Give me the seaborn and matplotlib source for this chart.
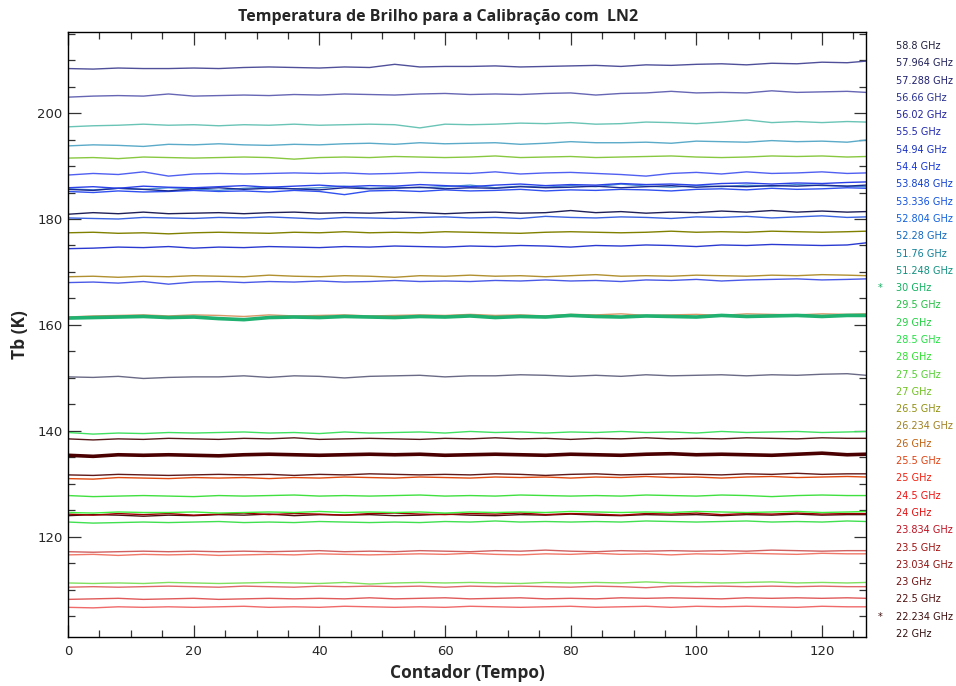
import numpy as np
import pandas as pd
import seaborn as sns
import matplotlib
matplotlib.use("Agg")
import matplotlib.pyplot as plt
from matplotlib.ticker import MultipleLocator

# ---------------- data ----------------
counter = [0, 4, 8, 12, 16, 20, 24, 28, 32, 36, 40, 44, 48, 52, 56, 60, 64, 68,
           72, 76, 80, 84, 88, 92, 96, 100, 104, 108, 112, 116, 120, 124, 127]

freq_labels = ["58.8 GHz", "57.964 GHz", "57.288 GHz", "56.66 GHz", "56.02 GHz",
               "55.5 GHz", "54.94 GHz", "54.4 GHz", "53.848 GHz", "53.336 GHz",
               "52.804 GHz", "52.28 GHz", "51.76 GHz", "51.248 GHz", "30 GHz",
               "29.5 GHz", "29 GHz", "28.5 GHz", "28 GHz", "27.5 GHz", "27 GHz",
               "26.5 GHz", "26.234 GHz", "26 GHz", "25.5 GHz", "25 GHz", "24.5 GHz",
               "24 GHz", "23.834 GHz", "23.5 GHz", "23.034 GHz", "23 GHz", "22.5 GHz",
               "22.234 GHz", "22 GHz"]

label_colors = ["#202040", "#202058", "#202070", "#283090", "#2020a0", "#2028b0",
                "#1830c0", "#1838d8", "#1040d0", "#1050e0", "#1060e0", "#1068c0",
                "#108098", "#109080", "#10b060", "#20c040", "#20d040", "#20e040",
                "#30e030", "#50d030", "#70c020", "#909010", "#a08020", "#c06010",
                "#e04010", "#f02010", "#f01010", "#e01010", "#c01020", "#a01010",
                "#901010", "#701010", "#501010", "#401010", "#301010"]

line_colors = ["#6a6a86", "#202058", "#50509a", "#6666b4", "#3a62e0", "#2a3ad0",
               "#4a5ae6", "#5060f0", "#2a40e8", "#1a2a90", "#3050f0", "#4a90d0",
               "#5aaac8", "#6ac4b6", "#20b070", "#40e050", "#40f040", "#40e060",
               "#40e040", "#80e060", "#88c840", "#808000", "#b09030", "#d89868",
               "#e04a10", "#f06a6a", "#e05a5a", "#f07868", "#a00000", "#d06060",
               "#e06868", "#601818", "#581818", "#4a0000", "#4a1010"]

marked = ["30 GHz", "22.234 GHz"]   # thick lines, marked with * in the legend

tb_58_8 = [150.2, 150.1, 150.3, 149.9, 150.1, 150.2, 150.2, 150.4, 150.1, 150.4, 150.3, 150.0, 150.3, 150.4, 150.5, 150.2, 150.4, 150.4, 150.6, 150.5, 150.3, 150.5, 150.3, 150.6, 150.4, 150.5, 150.6, 150.4, 150.6, 150.5, 150.7, 150.8, 150.5]
tb_57_964 = [180.9, 181.2, 181.0, 181.3, 181.0, 181.1, 181.2, 181.0, 181.2, 181.3, 181.1, 181.2, 181.1, 181.3, 181.2, 181.0, 181.2, 181.3, 181.1, 181.2, 181.6, 181.2, 181.4, 181.1, 181.3, 181.2, 181.5, 181.3, 181.6, 181.3, 181.5, 181.3, 181.4]
tb_57_288 = [208.4, 208.3, 208.5, 208.4, 208.4, 208.5, 208.4, 208.6, 208.7, 208.6, 208.5, 208.7, 208.6, 209.2, 208.7, 208.8, 208.8, 208.9, 208.7, 208.8, 208.9, 209.0, 208.8, 209.1, 209.0, 209.2, 209.3, 209.1, 209.4, 209.3, 209.6, 209.5, 209.8]
tb_56_66 = [203.0, 203.2, 203.3, 203.2, 203.6, 203.2, 203.3, 203.4, 203.3, 203.5, 203.4, 203.6, 203.5, 203.4, 203.6, 203.7, 203.5, 203.6, 203.5, 203.7, 203.8, 203.4, 203.7, 203.8, 204.1, 203.8, 203.9, 203.8, 204.2, 203.9, 204.0, 204.1, 203.9]
tb_56_02 = [180.2, 180.1, 180.0, 180.3, 180.2, 180.1, 180.3, 180.2, 180.4, 180.2, 180.0, 180.3, 180.2, 180.1, 180.3, 180.4, 180.2, 180.3, 180.1, 180.5, 180.3, 180.2, 180.4, 180.3, 180.1, 180.4, 180.3, 180.5, 180.2, 180.4, 180.6, 180.3, 180.4]
tb_55_5 = [174.4, 174.5, 174.7, 174.6, 174.8, 174.5, 174.7, 174.6, 174.8, 174.7, 174.6, 174.8, 174.7, 174.9, 174.8, 174.7, 174.9, 174.8, 175.0, 174.9, 174.7, 175.0, 174.9, 175.1, 175.0, 174.8, 175.1, 175.0, 175.2, 175.1, 175.0, 175.1, 175.5]
tb_54_94 = [168.0, 168.1, 167.9, 168.2, 167.7, 168.1, 168.2, 168.0, 168.2, 168.1, 168.3, 168.1, 168.2, 168.4, 168.2, 168.3, 168.2, 168.4, 168.3, 168.5, 168.3, 168.4, 168.2, 168.5, 168.4, 168.6, 168.3, 168.5, 168.6, 168.7, 168.5, 168.6, 168.7]
tb_54_4 = [188.3, 188.6, 188.4, 188.9, 188.1, 188.5, 188.6, 188.5, 188.6, 188.7, 188.6, 188.7, 188.5, 188.6, 188.8, 188.7, 188.6, 188.9, 188.5, 188.7, 188.8, 188.6, 188.4, 188.1, 188.6, 188.8, 188.5, 188.9, 188.6, 188.7, 188.9, 188.6, 188.7]
tb_53_848 = [185.9, 186.1, 185.8, 186.2, 186.0, 185.9, 186.1, 186.3, 186.0, 186.2, 186.4, 186.1, 186.3, 186.2, 186.5, 186.3, 186.1, 186.4, 186.6, 186.3, 186.5, 186.4, 186.7, 186.5, 186.6, 186.4, 186.7, 186.8, 186.6, 186.8, 186.7, 186.9, 187.0]
tb_53_336 = [185.6, 185.4, 185.8, 185.6, 185.3, 185.7, 185.9, 185.6, 185.8, 185.7, 185.5, 185.9, 185.7, 185.8, 186.0, 185.7, 185.9, 185.8, 186.1, 185.9, 186.0, 186.2, 185.9, 186.1, 186.3, 186.0, 186.2, 186.1, 186.3, 186.2, 186.4, 186.2, 186.4]
tb_52_804 = [185.2, 185.0, 185.3, 185.1, 185.2, 185.4, 185.2, 185.3, 185.1, 185.4, 185.2, 184.6, 185.3, 185.4, 185.2, 185.5, 185.3, 185.4, 185.6, 185.3, 185.5, 185.4, 185.6, 185.5, 185.3, 185.6, 185.7, 185.5, 185.8, 185.6, 185.7, 185.9, 185.8]
tb_52_28 = [185.7, 185.5, 185.8, 185.6, 185.9, 185.7, 185.4, 185.8, 186.0, 185.7, 185.9, 186.2, 185.8, 186.0, 185.9, 186.1, 186.4, 185.9, 186.2, 186.0, 186.3, 186.1, 186.6, 186.2, 186.0, 186.3, 186.1, 186.4, 186.2, 186.5, 186.3, 186.2, 186.1]
tb_51_76 = [193.8, 194.0, 193.9, 193.7, 194.1, 194.0, 194.2, 194.0, 193.9, 194.1, 194.0, 194.2, 194.3, 194.1, 194.4, 194.2, 194.3, 194.4, 194.1, 194.3, 194.6, 194.4, 194.4, 194.5, 194.3, 194.7, 194.6, 194.5, 194.8, 194.6, 194.7, 194.5, 194.9]
tb_51_248 = [197.4, 197.6, 197.7, 197.9, 197.7, 197.8, 197.6, 197.8, 197.7, 197.9, 197.7, 197.8, 197.9, 197.8, 197.2, 197.9, 197.8, 197.9, 198.1, 198.0, 198.2, 197.9, 198.0, 198.3, 198.2, 198.0, 198.3, 198.7, 198.2, 198.4, 198.2, 198.4, 198.3]
tb_30 = [161.3, 161.4, 161.5, 161.6, 161.4, 161.5, 161.2, 161.0, 161.4, 161.5, 161.4, 161.6, 161.5, 161.4, 161.6, 161.5, 161.7, 161.4, 161.6, 161.5, 161.8, 161.6, 161.5, 161.7, 161.6, 161.5, 161.8, 161.6, 161.7, 161.8, 161.6, 161.8, 161.8]
tb_29_5 = [122.8, 122.6, 122.7, 122.8, 122.7, 122.8, 122.9, 122.7, 122.8, 122.7, 122.9, 122.8, 122.7, 122.8, 122.7, 122.9, 122.8, 123.0, 122.8, 122.9, 122.8, 122.9, 122.8, 123.0, 122.9, 122.8, 122.9, 123.0, 122.8, 122.9, 122.8, 123.0, 122.9]
tb_29 = [124.6, 124.5, 124.7, 124.6, 124.6, 124.7, 124.5, 124.6, 124.7, 124.6, 124.8, 124.6, 124.7, 124.6, 124.7, 124.5, 124.7, 124.6, 124.7, 124.6, 124.8, 124.7, 124.6, 124.7, 124.6, 124.8, 124.7, 124.6, 124.7, 124.8, 124.6, 124.7, 124.8]
tb_28_5 = [139.7, 139.4, 139.6, 139.5, 139.7, 139.6, 139.7, 139.8, 139.6, 139.7, 139.5, 139.8, 139.6, 139.7, 139.8, 139.6, 139.9, 139.7, 139.8, 139.6, 139.8, 139.7, 139.9, 139.7, 139.8, 139.6, 139.9, 139.7, 139.8, 139.9, 139.7, 139.8, 139.9]
tb_28 = [127.8, 127.6, 127.7, 127.8, 127.7, 127.6, 127.8, 127.7, 127.8, 127.9, 127.7, 127.8, 127.7, 127.8, 127.9, 127.7, 127.8, 127.7, 127.9, 127.8, 127.7, 127.8, 127.7, 127.9, 127.8, 127.7, 127.9, 127.8, 127.6, 127.8, 127.9, 127.8, 127.8]
tb_27_5 = [111.3, 111.2, 111.3, 111.2, 111.4, 111.3, 111.2, 111.3, 111.4, 111.3, 111.2, 111.4, 111.1, 111.3, 111.4, 111.3, 111.4, 111.3, 111.2, 111.4, 111.3, 111.4, 111.3, 111.5, 111.3, 111.4, 111.3, 111.4, 111.5, 111.3, 111.4, 111.3, 111.4]
tb_27 = [191.5, 191.6, 191.4, 191.7, 191.6, 191.5, 191.6, 191.7, 191.6, 191.3, 191.6, 191.7, 191.6, 191.8, 191.7, 191.6, 191.7, 191.9, 191.6, 191.7, 191.8, 191.6, 191.7, 191.8, 191.9, 191.7, 191.6, 191.7, 191.9, 191.8, 191.9, 191.7, 191.8]
tb_26_5 = [177.4, 177.5, 177.3, 177.4, 177.2, 177.4, 177.5, 177.4, 177.3, 177.5, 177.4, 177.6, 177.4, 177.5, 177.4, 177.6, 177.5, 177.4, 177.3, 177.5, 177.6, 177.5, 177.4, 177.5, 177.7, 177.5, 177.6, 177.5, 177.7, 177.6, 177.5, 177.6, 177.7]
tb_26_234 = [169.1, 169.2, 169.0, 169.2, 169.1, 169.3, 169.2, 169.1, 169.4, 169.2, 169.1, 169.3, 169.2, 169.0, 169.3, 169.2, 169.4, 169.2, 169.3, 169.1, 169.3, 169.5, 169.2, 169.3, 169.2, 169.4, 169.3, 169.2, 169.4, 169.3, 169.5, 169.4, 169.3]
tb_26 = [161.5, 161.7, 161.8, 161.9, 161.7, 161.9, 161.8, 161.6, 161.9, 161.7, 161.8, 161.9, 161.7, 161.8, 161.9, 161.8, 162.0, 161.8, 161.9, 161.7, 162.0, 161.9, 162.1, 161.8, 161.9, 162.0, 161.8, 162.1, 162.0, 161.9, 162.1, 162.0, 162.1]
tb_25_5 = [131.0, 130.9, 131.2, 131.1, 131.0, 131.2, 131.1, 131.2, 131.0, 131.2, 131.1, 131.3, 131.2, 131.1, 131.3, 131.2, 131.1, 131.3, 131.2, 131.3, 131.1, 131.3, 131.2, 131.4, 131.2, 131.3, 131.1, 131.3, 131.4, 131.2, 131.3, 131.4, 131.3]
tb_25 = [106.7, 106.6, 106.8, 106.7, 106.8, 106.7, 106.8, 106.9, 106.7, 106.8, 106.7, 106.9, 106.8, 106.7, 106.8, 106.7, 106.9, 106.8, 106.7, 106.8, 106.9, 106.7, 106.8, 106.9, 106.7, 106.9, 106.8, 106.9, 106.8, 106.7, 106.9, 106.8, 106.8]
tb_24_5 = [108.2, 108.3, 108.4, 108.2, 108.3, 108.4, 108.2, 108.3, 108.4, 108.3, 108.4, 108.3, 108.5, 108.3, 108.4, 108.5, 108.3, 108.4, 108.5, 108.3, 108.4, 108.3, 108.5, 108.4, 108.5, 108.4, 108.3, 108.5, 108.4, 108.5, 108.4, 108.5, 108.4]
tb_24 = [116.6, 116.7, 116.5, 116.7, 116.6, 116.7, 116.5, 116.6, 116.7, 116.6, 116.8, 116.7, 116.6, 116.7, 116.8, 116.7, 116.9, 116.7, 116.6, 116.8, 116.7, 116.9, 116.7, 116.8, 116.6, 116.8, 116.7, 116.9, 116.8, 116.7, 116.9, 116.8, 116.8]
tb_23_834 = [124.3, 124.1, 124.4, 124.2, 124.4, 124.1, 124.3, 124.5, 124.2, 124.4, 124.3, 124.1, 124.4, 124.5, 124.3, 124.2, 124.4, 124.3, 124.5, 124.2, 124.4, 124.3, 124.1, 124.4, 124.3, 124.5, 124.2, 124.4, 124.3, 124.5, 124.3, 124.4, 124.4]
tb_23_5 = [117.2, 117.1, 117.2, 117.3, 117.2, 117.3, 117.2, 117.3, 117.2, 117.3, 117.4, 117.2, 117.3, 117.2, 117.4, 117.3, 117.2, 117.4, 117.3, 117.5, 117.3, 117.2, 117.4, 117.3, 117.4, 117.3, 117.4, 117.3, 117.5, 117.4, 117.3, 117.4, 117.4]
tb_23_034 = [110.5, 110.6, 110.5, 110.6, 110.7, 110.6, 110.5, 110.7, 110.6, 110.5, 110.7, 110.6, 110.7, 110.6, 110.7, 110.5, 110.7, 110.6, 110.7, 110.6, 110.5, 110.7, 110.6, 110.4, 110.7, 110.6, 110.7, 110.6, 110.7, 110.6, 110.7, 110.6, 110.6]
tb_23 = [131.7, 131.6, 131.8, 131.7, 131.6, 131.7, 131.8, 131.7, 131.8, 131.6, 131.8, 131.7, 131.9, 131.8, 131.7, 131.8, 131.7, 131.9, 131.8, 131.6, 131.8, 131.9, 131.7, 131.8, 131.9, 131.8, 131.7, 131.9, 131.8, 132.0, 131.8, 131.9, 131.9]
tb_22_5 = [138.5, 138.3, 138.5, 138.4, 138.6, 138.5, 138.4, 138.6, 138.5, 138.7, 138.4, 138.5, 138.6, 138.5, 138.4, 138.6, 138.5, 138.7, 138.5, 138.6, 138.4, 138.6, 138.5, 138.7, 138.5, 138.6, 138.5, 138.7, 138.6, 138.5, 138.7, 138.6, 138.6]
tb_22_234 = [135.4, 135.2, 135.5, 135.4, 135.5, 135.4, 135.3, 135.5, 135.6, 135.5, 135.4, 135.5, 135.6, 135.5, 135.6, 135.4, 135.5, 135.6, 135.5, 135.4, 135.6, 135.5, 135.4, 135.6, 135.7, 135.5, 135.6, 135.5, 135.4, 135.6, 135.8, 135.5, 135.6]
tb_22 = [124.0, 124.2, 124.1, 123.9, 124.1, 124.0, 124.2, 124.1, 124.3, 124.0, 124.2, 124.1, 124.2, 124.0, 124.1, 124.3, 124.1, 124.0, 124.2, 124.1, 124.3, 124.1, 124.0, 124.2, 124.1, 124.2, 124.0, 124.2, 124.1, 124.3, 124.1, 124.2, 124.2]

series = [tb_58_8, tb_57_964, tb_57_288, tb_56_66, tb_56_02, tb_55_5, tb_54_94,
          tb_54_4, tb_53_848, tb_53_336, tb_52_804, tb_52_28, tb_51_76, tb_51_248,
          tb_30, tb_29_5, tb_29, tb_28_5, tb_28, tb_27_5, tb_27, tb_26_5, tb_26_234,
          tb_26, tb_25_5, tb_25, tb_24_5, tb_24, tb_23_834, tb_23_5, tb_23_034,
          tb_23, tb_22_5, tb_22_234, tb_22]

# ---------------- plot ----------------
sns.set_style("ticks")
plt.rcParams["font.family"] = ["DejaVu Sans"]

W, H = 956, 686
fig = plt.figure(figsize=(W / 100, H / 100), dpi=100)
ax = fig.add_axes([68 / W, 1 - 637 / H, (866 - 68) / W, (637 - 32) / H])

rows = []
for lab, vals in zip(freq_labels, series):
    for c, v in zip(counter, vals):
        rows.append((lab, c, v))
df = pd.DataFrame(rows, columns=["canal", "contador", "tb"])

# draw thin lines first, thick (marked) lines on top
order = [l for l in freq_labels if l not in marked][::-1] + marked
for lab in order:
    i = freq_labels.index(lab)
    sub = df[df["canal"] == lab]
    lw = 2.6 if lab in marked else 1.0
    sns.lineplot(data=sub, x="contador", y="tb", color=line_colors[i], lw=lw,
                 ax=ax, legend=False, estimator=None, sort=False)

ax.set_xlim(0, 127)
ax.set_ylim(101.1, 215.3)
ax.xaxis.set_major_locator(MultipleLocator(20))
ax.xaxis.set_minor_locator(MultipleLocator(5))
ax.yaxis.set_major_locator(MultipleLocator(20))
ax.yaxis.set_minor_locator(MultipleLocator(5))
ax.tick_params(which="both", direction="in", top=True, right=True,
               color="#333333", width=0.9, labelsize=9.5)
ax.tick_params(axis="x", pad=6)
ax.tick_params(axis="y", pad=4)
ax.tick_params(which="major", length=9)
ax.tick_params(which="minor", length=5)
for s in ax.spines.values():
    s.set_linewidth(1.0)
    s.set_color("black")

ax.set_xlabel("Contador (Tempo)", fontsize=12.5, fontweight="bold",
              family=["Open Sans", "DejaVu Sans"], labelpad=4)
ax.set_ylabel("Tb (K)", fontsize=12.5, fontweight="bold",
              family=["Open Sans", "DejaVu Sans"], labelpad=6)

fig.text(438 / W, 1 - 17 / H, "Temperatura de Brilho para a Calibração com  LN2",
         ha="center", va="center", fontsize=11.5, fontweight="bold",
         family=["Open Sans", "DejaVu Sans"])

# channel labels at the right, IDL style
y0, y1 = 46, 634
n = len(freq_labels)
for i, (lab, col) in enumerate(zip(freq_labels, label_colors)):
    ypix = y0 + (y1 - y0) * i / (n - 1)
    fig.text(896 / W, 1 - ypix / H, lab, color=col, fontsize=7,
             ha="left", va="center")
    if lab in marked:
        fig.text(878 / W, 1 - ypix / H, "*", color=col, fontsize=7,
                 ha="left", va="center")

fig.savefig("out.png", dpi=100)
